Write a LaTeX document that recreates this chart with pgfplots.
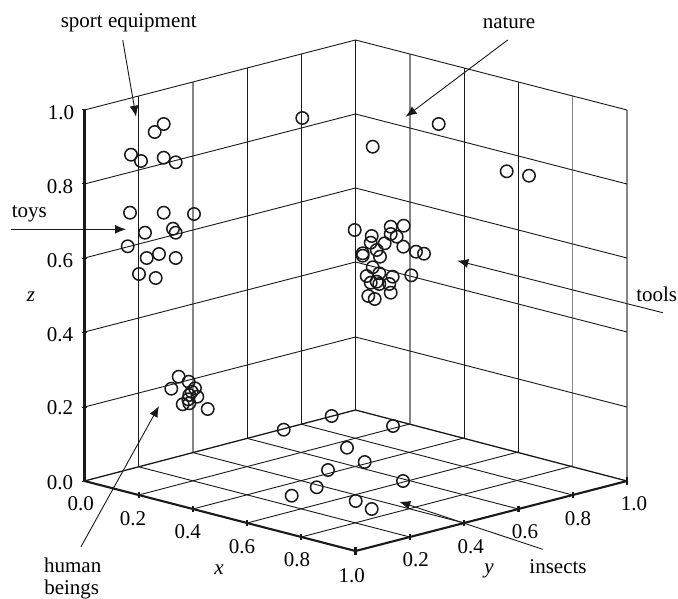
\documentclass[border=0pt]{standalone}
\usepackage{pgfplots}
\pgfplotsset{compat=1.18}
\usepackage{pgfplotstable}
\usepackage{fontspec}
\setmainfont{Liberation Serif}
\usetikzlibrary{arrows.meta}
\pgfplotstableread{
px py
163.7 124
154.7 132
131 154.7
141 161
163.7 157.7
175.7 162.3
130 212.7
163.7 212.7
194 214
173 228.7
175.7 232.7
145 232.7
127.7 246.3
159 254
146.7 258
175.7 258
139 274
155.7 278
302.3 118
438.7 124
372.7 146.7
506.7 171.3
529 175.7
354.7 230
390.7 226.7
403.7 225.7
371.7 236
390.7 234
396.7 236.7
370.7 242.7
384.7 243.3
403.3 246.7
376.7 250
362.7 253.3
362.7 255.7
380 256.7
416 251.7
424 253.7
372.7 267.3
379.3 273.3
366.7 276
392.7 276.7
411.3 275.3
370.7 282.7
376.7 281.7
379.3 284
389.3 284
390.7 292.7
368.3 296
374.7 299
178.7 376.7
188.7 381.7
171.3 388.7
195 388.3
191.7 391.7
197.3 396.7
189.3 395
188.3 399.3
182.7 404.3
189.3 403.3
207.7 409
283.7 429.7
331.7 416
328 470
316.7 487.3
291.7 495.7
393 426
347 447.7
364.7 462
403 481
355.7 501
371.7 509
}\points
\definecolor{ink}{gray}{0.1}
\pgfplotsset{
 dk/.style={no marks,draw=ink,line width=0.9pt},
 gy/.style={no marks,draw=gray!95,line width=1.4pt},
 ax/.style={no marks,draw=ink,line width=2.1pt},
 tk/.style={no marks,draw=ink,line width=2.2pt},
 ar/.style={no marks,draw=ink,line width=0.9pt,-{Latex[length=11pt,width=9pt]}},
}
\newcommand{\T}[1]{\fontsize{21}{24}\selectfont #1}
\begin{document}
\begin{tikzpicture}[x=1pt,y=1pt]
\path[use as bounding box] (0,0) rectangle (678pt,599pt);
\begin{axis}[
 at={(0,0)},anchor=south west,
 scale only axis,width=678pt,height=599pt,
 xmin=0,xmax=678,ymin=0,ymax=599,y dir=reverse,
 hide axis,clip=false]
% wall verticals
\addplot[dk] coordinates {(138.6,96) (138.6,467)};
\addplot[gy] coordinates {(192.8,82) (192.8,453)};
\addplot[dk] coordinates {(247,68) (247,439)};
\addplot[dk] coordinates {(301.3,54) (301.3,425)};
\addplot[dk] coordinates {(355.5,40) (355.5,410)};
\addplot[gy] coordinates {(409.8,54) (409.8,424)};
\addplot[dk] coordinates {(464.1,68) (464.1,438)};
\addplot[dk] coordinates {(518.4,82) (518.4,452)};
\addplot[gy] coordinates {(572.7,96) (572.7,467)};
\addplot[gy] coordinates {(627,110) (627,481)};
% wall horizontals
\addplot[dk] coordinates {(84.5,110) (355.5,40) (627,110)};
\addplot[dk] coordinates {(84.5,184) (355.5,114) (627,184)};
\addplot[dk] coordinates {(84.5,258) (355.5,188) (627,258)};
\addplot[dk] coordinates {(84.5,332) (355.5,262) (627,332)};
\addplot[dk] coordinates {(84.5,407) (355.5,337) (627,407)};
\addplot[no marks,draw=ink,line width=1.3pt] coordinates {(84.5,481) (355.5,410) (627,481)};
% floor
\addplot[dk] coordinates {(138.7,495) (409.7,424)};
\addplot[dk] coordinates {(192.9,509) (463.9,438)};
\addplot[dk] coordinates {(247.1,523) (518.1,452)};
\addplot[dk] coordinates {(301.3,537) (572.3,466)};
\addplot[dk] coordinates {(409.8,537) (138.7,466.8)};
\addplot[dk] coordinates {(464.1,523) (192.9,452.6)};
\addplot[dk] coordinates {(518.4,509) (247.1,438.4)};
\addplot[dk] coordinates {(572.7,495) (301.3,424.2)};
% axes
\addplot[no marks,draw=ink,line width=2.8pt] coordinates {(84.5,110) (84.5,482)};
\addplot[ax] coordinates {(84.5,481) (355.5,551) (627,481)};
% ticks
\addplot[no marks,draw=ink,line width=1pt] coordinates {(82,184) (87,184)};
\addplot[no marks,draw=ink,line width=1pt] coordinates {(82,110) (87,110)};
\addplot[no marks,draw=ink,line width=1pt] coordinates {(82,258) (87,258)};
\addplot[no marks,draw=ink,line width=1pt] coordinates {(82,332) (87,332)};
\addplot[no marks,draw=ink,line width=1pt] coordinates {(82,407) (87,407)};
\addplot[no marks,draw=ink,line width=1pt] coordinates {(82,481) (87,481)};
\addplot[tk] coordinates {(138.7,492) (138.7,498)};
\addplot[tk] coordinates {(192.9,506) (192.9,512)};
\addplot[tk] coordinates {(247.1,520) (247.1,526)};
\addplot[tk] coordinates {(301.3,534) (301.3,540)};
\addplot[tk] coordinates {(355.5,547) (355.5,555)};
\addplot[tk] coordinates {(409.8,534) (409.8,540)};
\addplot[tk] coordinates {(464.1,520) (464.1,526)};
\addplot[tk] coordinates {(518.4,506) (518.4,512)};
\addplot[tk] coordinates {(572.7,492) (572.7,498)};
\addplot[tk] coordinates {(627,477) (627,485)};
% arrows
\addplot[ar] coordinates {(122.7,40) (136,116.7)};
\addplot[ar] coordinates {(10.7,229.3) (126,229.3)};
\addplot[ar] coordinates {(81,546.7) (159,406)};
\addplot[ar] coordinates {(507.7,40) (405.7,116.7)};
\addplot[ar] coordinates {(662.7,312.7) (457.3,260.7)};
\addplot[ar] coordinates {(542.7,549.3) (399.3,501.7)};
% points
\addplot[only marks,mark=o,mark size=6.2pt,mark options={draw=ink,line width=1.5pt,fill=none}] table[x=px,y=py] {\points};
% text
\node at (axis cs:61,113) {\T{1.0}};
\node at (axis cs:60,187) {\T{0.8}};
\node at (axis cs:60,261) {\T{0.6}};
\node at (axis cs:60,335) {\T{0.4}};
\node at (axis cs:60,408) {\T{0.2}};
\node at (axis cs:60,482.7) {\T{0.0}};
\node at (axis cs:80.7,504) {\T{0.0}};
\node at (axis cs:133,519) {\T{0.2}};
\node at (axis cs:187.7,532) {\T{0.4}};
\node at (axis cs:242,547) {\T{0.6}};
\node at (axis cs:297,560) {\T{0.8}};
\node at (axis cs:351.7,575.7) {\T{1.0}};
\node at (axis cs:415.7,560) {\T{0.2}};
\node at (axis cs:470.7,547) {\T{0.4}};
\node at (axis cs:525,532) {\T{0.6}};
\node at (axis cs:578,519) {\T{0.8}};
\node at (axis cs:634,504) {\T{1.0}};
\node[anchor=base] at (axis cs:219,574) {\T{\itshape x}};
\node[anchor=base] at (axis cs:489,573) {\T{\itshape y}};
\node[anchor=base] at (axis cs:31,301) {\T{\itshape z}};
\node[anchor=base] at (axis cs:128.7,28) {\T{sport equipment}};
\node[anchor=base] at (axis cs:509,29) {\T{nature}};
\node[anchor=base] at (axis cs:29.3,218) {\T{toys}};
\node[anchor=base] at (axis cs:656.7,301) {\T{tools}};
\node[anchor=base] at (axis cs:558,573) {\T{insects}};
\node[anchor=base] at (axis cs:72.7,572) {\T{human}};
\node[anchor=base] at (axis cs:71.7,594) {\T{beings}};
\end{axis}
\end{tikzpicture}
\end{document}
